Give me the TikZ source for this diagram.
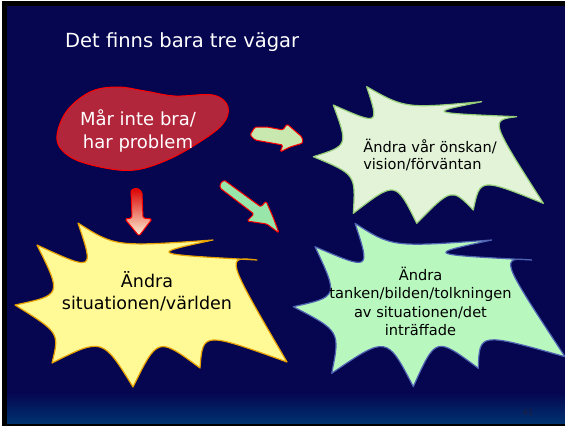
\documentclass[tikz,border=0pt]{standalone}
\usepackage{fontspec}
\setmainfont{DejaVu Sans}
\definecolor{slidebg}{RGB}{5,5,80}
\definecolor{slidelow}{RGB}{0,50,112}
\definecolor{blobfill}{RGB}{178,38,60}
\definecolor{yelfill}{RGB}{255,250,150}
\definecolor{yeledge}{RGB}{230,160,0}
\definecolor{palefill}{RGB}{226,243,216}
\definecolor{paleedge}{RGB}{150,205,120}
\definecolor{mintfill}{RGB}{184,248,190}
\definecolor{mintedge}{RGB}{80,100,180}
\definecolor{arrlight}{RGB}{200,232,176}
\definecolor{arrmint}{RGB}{152,230,170}
\definecolor{pagenum}{RGB}{30,30,60}

\begin{document}
\begin{tikzpicture}[
    x=1pt, y=-1pt,
    blob/.style={draw=red, fill=blobfill, line width=1pt},
    burst/.style={line width=1.2pt, line join=round},
    blockarr/.style={draw=red, line width=1pt, line join=round, rounded corners=1.5pt},
    txt/.style={inner sep=0pt, align=center},
  ]
  \useasboundingbox (0,0) rectangle (565,426);

  % slide frame and background
  \fill[white] (0,0) rectangle (565,426);
  \fill[black] (2,1) rectangle (565,426);
  \fill[slidebg] (7,6) rectangle (565,423);
  \shade[top color=slidebg, bottom color=slidelow] (7,392) rectangle (565,423);

  \node[txt, anchor=base west, text=white, font=\fontsize{19.5}{23}\selectfont] (title) at (65,47)
    {Det finns bara tre vägar};

  % start: the red blob
  \draw[blob] plot[smooth cycle, tension=0.6] coordinates {
    (57,140) (66,112) (90,92) (117,87) (145,91) (175,96) (213,95) (228,107)
    (222,125) (195,145) (165,161) (135,170) (105,168) (72,158)};
  \node[txt, text=white, font=\fontsize{18}{23}\selectfont] (start) at (138,131)
    {Mår inte bra/\\har problem};

  % the three ways
  \draw[burst, draw=paleedge, fill=palefill]
    (313.3,156.7) .. controls (348.3,145.7) .. (333.3,105)
    .. controls (379.3,125.3) .. (366.7,86.7)
    .. controls (405.2,108.5) .. (481.7,101.7)
    .. controls (426.8,112.8) .. (516.7,116.7)
    .. controls (490,120) .. (543.3,203.3)
    .. controls (480,177.8) .. (473.3,210)
    .. controls (451.7,187.8) .. (416.7,223.3)
    .. controls (395.7,180.7) .. (353.3,213.3)
    .. controls (355.7,174.3) .. cycle;
  \node[txt, align=left, font=\fontsize{14.6}{17}\selectfont] (wish) at (430,155)
    {Ändra vår önskan/\\vision/förväntan};

  \draw[burst, draw=yeledge, fill=yelfill]
    (15,305) .. controls (62,295) .. (37,245)
    .. controls (94.2,271.3) .. (78,223)
    .. controls (115.5,246.8) .. (213,240)
    .. controls (148.3,254) .. (257,260)
    .. controls (225.3,256.3) .. (287,362)
    .. controls (202.8,331.7) .. (200,368)
    .. controls (157.8,336.8) .. (133,387)
    .. controls (102.5,337.7) .. (52,363)
    .. controls (59.5,332.7) .. cycle;
  \node[txt, font=\fontsize{17.5}{22}\selectfont] (world) at (147,291)
    {Ändra\\situationen/världen};

  \draw[burst, draw=mintedge, fill=mintfill]
    (293.3,306.7) .. controls (338.6,296.7) .. (315,246.7)
    .. controls (370.6,270.6) .. (355,223.3)
    .. controls (392.2,247.2) .. (491.7,240)
    .. controls (425,254.4) .. (531.7,260)
    .. controls (499.5,257.2) .. (565,356.7)
    .. controls (479.4,332.5) .. (478.3,368.3)
    .. controls (435.8,336.5) .. (413.3,386.7)
    .. controls (386.9,335.6) .. (331.7,373.3)
    .. controls (340.2,331.1) .. cycle;
  \node[txt, font=\fontsize{14.6}{18.3}\selectfont] (thought) at (420.5,301.5)
    {Ändra\\tanken/bilden/tolkningen\\av situationen/det\\inträffade};

  % block arrows
  \draw[blockarr, fill=arrlight]
    (250,135) -- (255,127) -- (267,127) -- (283,130) -- (287,124) -- (302,137)
    -- (303,143) -- (290,147) -- (280,152) -- (283,145) -- (255,140) -- cycle;
  \draw[blockarr, fill=arrmint]
    (220,184) -- (224,180) -- (261,207) -- (266,201) -- (273,217) -- (279,233)
    -- (267,224) -- (247,221) -- (254,214) -- (220,188) -- cycle;
  \draw[blockarr, top color=red!85!black, middle color=orange!80, bottom color={rgb,255:red,255;green,245;blue,215}]
    (131,190) -- (137,188) -- (142,192) -- (143,218) -- (152,219) -- (139,236)
    -- (125,219) -- (132,218) -- cycle;

  \node[txt, text=pagenum, font=\fontsize{8.5}{10}\selectfont] (num) at (528,412) {41};
\end{tikzpicture}
\end{document}
